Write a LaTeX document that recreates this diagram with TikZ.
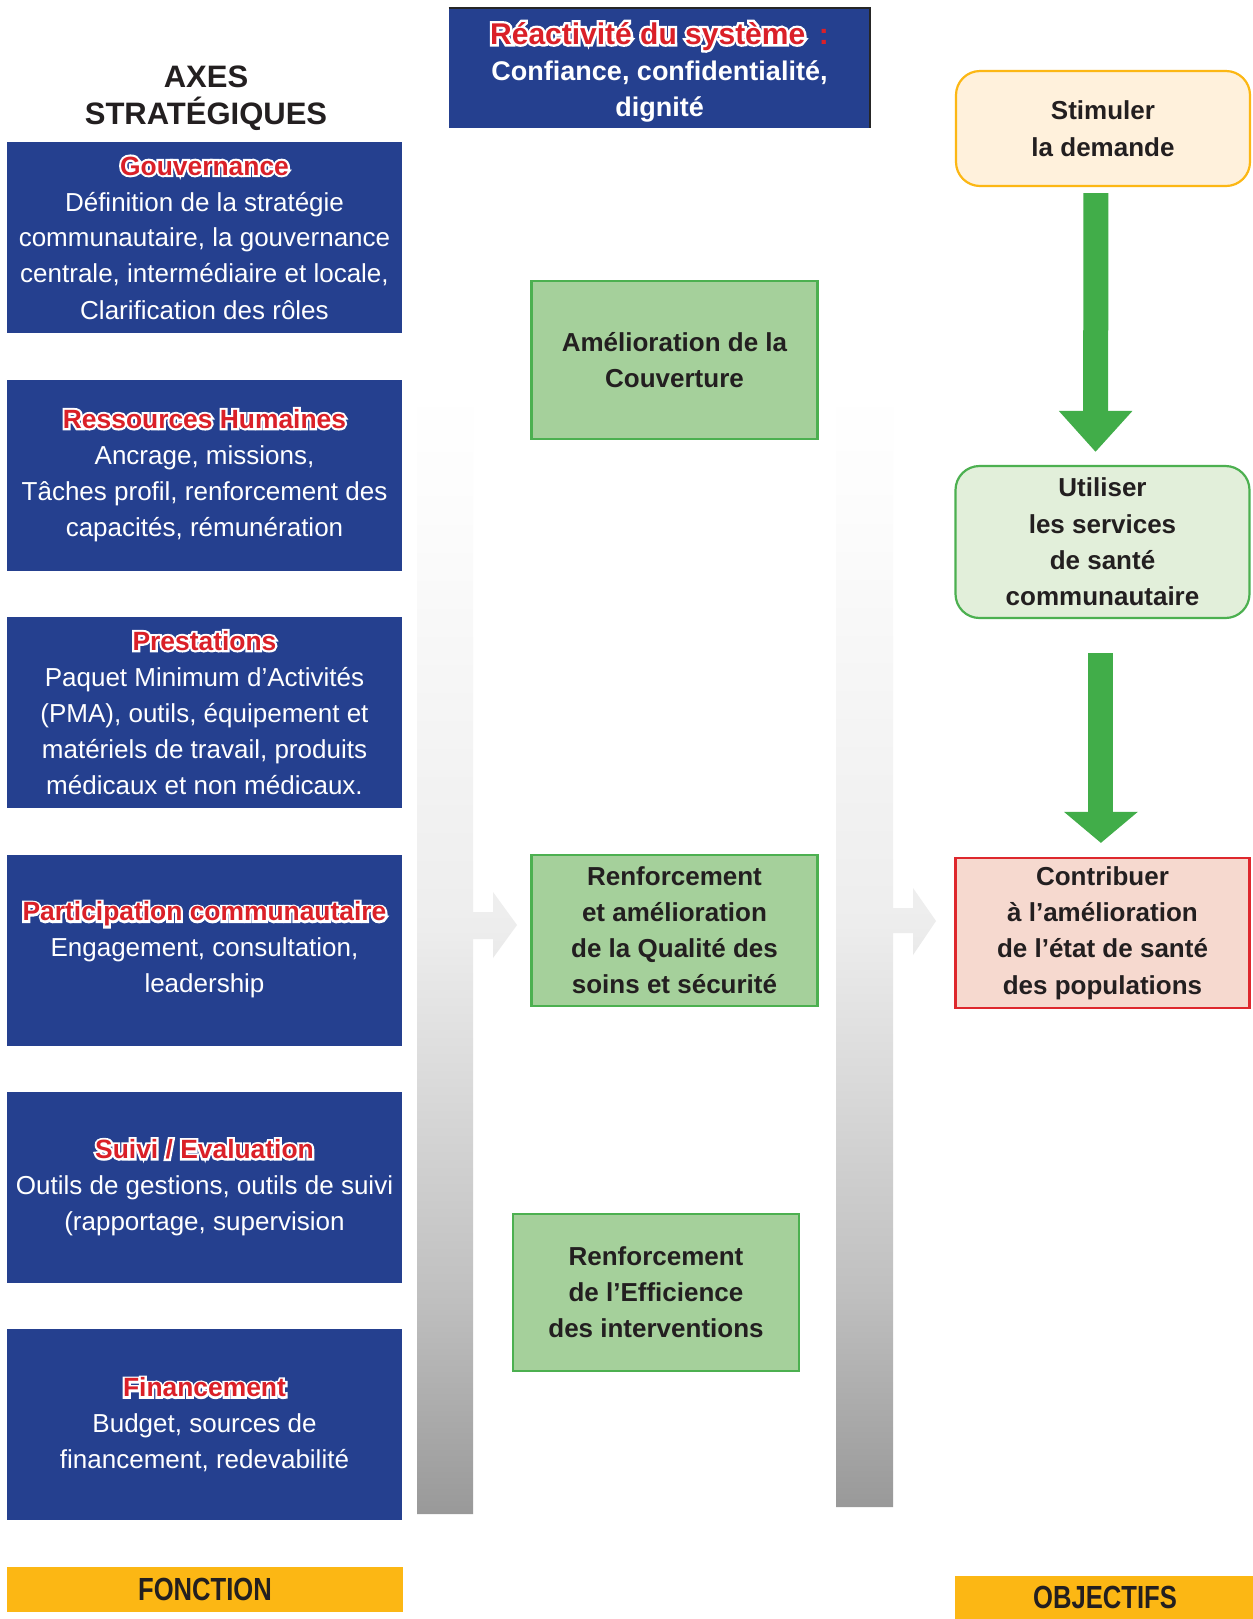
\documentclass[tikz,border=0pt]{standalone}
\usepackage{fontspec}
\setmainfont{Liberation Sans}
\newfontfamily\narrowfont[FakeStretch=0.8]{Liberation Sans}
\newfontfamily\halofont[FakeBold=16]{Liberation Sans}
\usetikzlibrary{positioning,arrows.meta}

\definecolor{axeblue}{RGB}{37,64,143}
\definecolor{titlered}{RGB}{218,32,40}
\definecolor{boxgreen}{RGB}{165,208,155}
\definecolor{linegreen}{RGB}{76,176,80}
\definecolor{arrowgreen}{RGB}{65,173,73}
\definecolor{labelgold}{RGB}{252,183,20}
\definecolor{demandfill}{RGB}{255,241,220}
\definecolor{usefill}{RGB}{226,239,218}
\definecolor{healthfill}{RGB}{246,217,207}
\definecolor{healthred}{RGB}{222,40,45}
\definecolor{inkdark}{RGB}{35,31,32}

% red title with a white halo
\newcommand{\haloed}[1]{\rlap{\color{white}\halofont\bfseries #1}{\bfseries\color{titlered}#1}}
\newcommand{\axetitle}[1]{{\fontsize{13.2}{18}\selectfont\haloed{#1}}}

\pgfdeclareverticalshading{barfade}{100bp}{color(0bp)=(black!40); color(25bp)=(black!40);
  color(34.5bp)=(black!25); color(51bp)=(black!7); color(70bp)=(black!1);
  color(75bp)=(white); color(100bp)=(white)}

\begin{document}
\begin{tikzpicture}[x=0.5pt,y=-0.5pt,
    axebox/.style={fill=axeblue, text=white, align=center, inner sep=0pt, outer sep=0pt,
      minimum width=197.5pt, minimum height=95.5pt, font=\fontsize{13}{18}\selectfont},
    goalbox/.style={fill=boxgreen, draw=linegreen, line width=1.3pt, align=center,
      text=inkdark, inner sep=0pt, minimum width=143pt, font=\bfseries\fontsize{13}{18}\selectfont},
    aimbox/.style={align=center, text=inkdark, inner sep=0pt, line width=1.1pt,
      minimum width=147pt, font=\bfseries\fontsize{13}{18.2}\selectfont},
    tagbar/.style={fill=labelgold, text=inkdark, inner sep=0pt,
      font=\narrowfont\bfseries\fontsize{16}{18}\selectfont},
    flowbar/.style={shading=barfade},
    node distance=23.2pt
  ]
    % 
    \fill[white] (0,0) rectangle (1253,1619);
    \useasboundingbox (0,0) rectangle (1253,1619);

    % 
    \shade[flowbar] (417,385) -- (473,385) -- (473,912) -- (493,912) -- (493,892) -- (517,925)
        -- (493,958) -- (493,939) -- (473,939) -- (473,1514) -- (417,1514) -- cycle;
    \shade[flowbar] (836,385) -- (893,385) -- (893,908) -- (913,908) -- (913,888) -- (936,921)
        -- (913,955) -- (913,933) -- (893,933) -- (893,1507) -- (836,1507) -- cycle;

    % 
    \node[font=\bfseries\fontsize{15.5}{18.5}\selectfont, text=inkdark, align=center] (axes)
        at (206,98.5) {AXES\\STRATÉGIQUES};
    \node[axebox] (gouv) at (204.5,237.9) {\axetitle{Gouvernance}\\Définition de la stratégie\\communautaire, la gouvernance\\centrale, intermédiaire et locale,\\Clarification des rôles};
    \node[axebox, below=of gouv] (rh) {\axetitle{Ressources Humaines}\\Ancrage, missions,\\Tâches profil, renforcement des\\capacités, rémunération};
    \node[axebox, below=of rh] (prest) {\axetitle{Prestations}\\Paquet Minimum d’Activités\\(PMA), outils, équipement et\\matériels de travail, produits\\médicaux et non médicaux.};
    \node[axebox, below=of prest] (partic) {\axetitle{Participation communautaire}\\Engagement, consultation,\\leadership};
    \node[axebox, below=of partic] (suivi) {\axetitle{Suivi / Evaluation}\\Outils de gestions, outils de suivi\\(rapportage, supervision};
    \node[axebox, below=of suivi] (finan) {\axetitle{Financement}\\Budget, sources de\\financement, redevabilité};
    \node[tagbar, minimum width=198pt, minimum height=22.5pt] (func) at (205,1589.5) {FONCTION};

    % 
    \node[fill=axeblue, text=white, align=center, inner sep=0pt, minimum width=210.5pt,
        minimum height=60pt, font=\bfseries\fontsize{13.5}{18}\selectfont] (reac) at (659.5,68)
        {\rule{0pt}{15pt}{\fontsize{15}{18}\selectfont\haloed{Réactivité du système}\hspace{0.45em}\textcolor{titlered}{:}}\\Confiance, confidentialité,\\dignité};
    \draw[black!85, line width=1pt] (reac.north west) -- (reac.north east) -- (reac.south east);
    \node[goalbox, minimum height=79pt] (couv) at (674.5,360) {Amélioration de la\\Couverture};
    \node[goalbox, minimum height=75.5pt] (qual) at (674.5,930.5) {Renforcement\\et amélioration\\de la Qualité des\\soins et sécurité};
    \node[goalbox, minimum height=78.5pt] (effi) at (656,1292.5) {Renforcement\\de l’Efficience\\des interventions};

    % 
    \node[aimbox, draw=labelgold, fill=demandfill, rounded corners=12pt, minimum height=57.5pt]
        (demand) at (1103,128.5) {Stimuler\\la demande};
    \node[aimbox, draw=linegreen, fill=usefill, rounded corners=12pt, minimum height=76pt]
        (use) at (1102.5,542) {Utiliser\\les services\\de santé\\communautaire};
    \node[aimbox, draw=healthred, fill=healthfill, minimum height=75pt]
        (health) at (1102.5,933) {Contribuer\\à l’amélioration\\de l’état de santé\\des populations};
    \node[tagbar, minimum width=150pt, minimum height=21.5pt] (goals) at (1105,1597.5) {OBJECTIFS};

    % 
    \draw[arrowgreen, line width=12.5pt, -{Triangle[width=35.5pt,length=20.5pt]},
        shorten <=3pt, shorten >=6.5pt] ([xshift=-3.5pt]demand.south) -- ([xshift=-3.5pt]use.north);
    \draw[arrowgreen, line width=12.5pt, -{Triangle[width=36pt,length=15.5pt]},
        shorten <=17pt, shorten >=7pt] ([xshift=-0.8pt]use.south) -- ([xshift=-0.8pt]health.north);
\end{tikzpicture}
\end{document}
